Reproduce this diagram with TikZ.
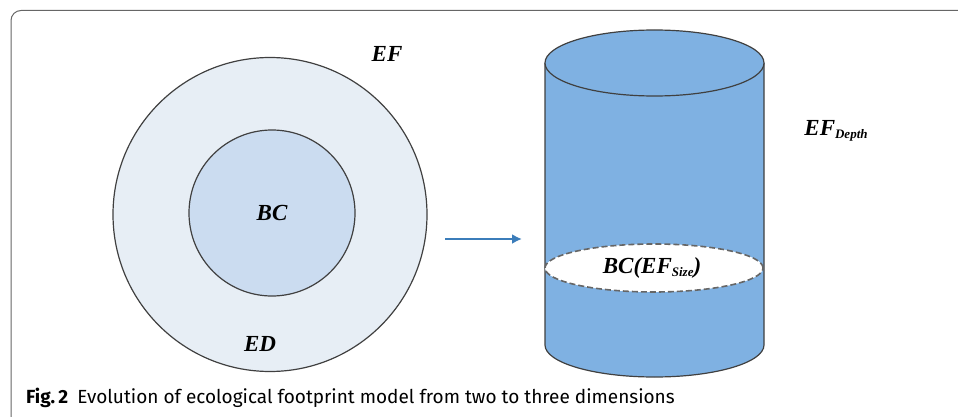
\documentclass[tikz,border=0pt]{standalone}
\usepackage{fontspec}
\newfontfamily\lblfont{Liberation Serif}
\newfontfamily\capfont{Fira Sans}
\usetikzlibrary{calc}
\usetikzlibrary{positioning}
\usetikzlibrary{arrows.meta}
\definecolor{edfill}{HTML}{E7EEF5}
\definecolor{bcfill}{HTML}{CBDCF0}
\definecolor{cylfill}{HTML}{7FB1E2}
\definecolor{arrowblue}{HTML}{3B7DBA}
\definecolor{rimgray}{HTML}{404040}
\newcommand{\lblsub}[1]{\raisebox{-2.5pt}{\fontsize{13}{13}\selectfont #1}}

\begin{document}
\begin{tikzpicture}[x=1pt, y=-1pt, font=\lblfont\bfseries\itshape\fontsize{23}{23}\selectfont]
	\tikzstyle{ring}=[circle, draw=rimgray, line width=1.2pt, inner sep=0pt]
	\tikzstyle{rim}=[draw=rimgray, line width=1.2pt]
	\tikzstyle{slice}=[draw=rimgray!80, fill=white, line width=1.6pt, dash pattern=on 6pt off 3pt]
	\tikzstyle{label}=[inner sep=0pt]

	\useasboundingbox (0,0) rectangle (958,417);

	% frame
	\draw[black!60, line width=1pt, rounded corners=10pt] (11,417) -- (11,10.5) -- (958,10.5);

	% two dimensions
	\node[ring, fill=edfill, minimum size=314pt] (ef) at (270,214.5) {};
	\node[ring, fill=bcfill, minimum size=166pt] (bc) at (272,213) {};
	\node[label] (bclbl) at (bc.center) {BC};
	\node[label] (edlbl) at (260,344) {ED};
	\node[label] (eflbl) at (387,54) {EF};

	% three dimensions
	\coordinate (top) at (654.5,63);
	\coordinate (bot) at (654.5,345);
	\fill[cylfill] ($(top)+(-109.5,0)$) -- ($(bot)+(-109.5,0)$)
		arc[start angle=180, end angle=360, x radius=109.5pt, y radius=32pt]
		-- ($(top)+(109.5,0)$) -- cycle;
	\draw[rim] ($(top)+(-109.5,0)$) -- ($(bot)+(-109.5,0)$)
		arc[start angle=180, end angle=360, x radius=109.5pt, y radius=32pt]
		-- ($(top)+(109.5,0)$);
	\draw[rim, fill=cylfill] (top) ellipse[x radius=109.5pt, y radius=33pt];
	\draw[slice] (654,268) ellipse[x radius=109pt, y radius=24pt];
	\node[label] (size) at (652,268) {BC(EF\lblsub{Size})};
	\node[label] (depth) at (836,131) {EF\lblsub{Depth}};

	% arrow between them
	\coordinate (from) at (445,239);
	\coordinate (to) at (522,239);
	\draw[arrowblue, line width=2.2pt, -{Latex[length=10pt, width=10pt]}] (from) -- (to);

	% caption
	\node[anchor=west, inner sep=0pt, font=\capfont\fontsize{19}{19}\selectfont] (cap) at (26,398)
		{\textbf{Fig.\,2}\hspace{9pt}Evolution of ecological footprint model from two to three dimensions};
\end{tikzpicture}
\end{document}
